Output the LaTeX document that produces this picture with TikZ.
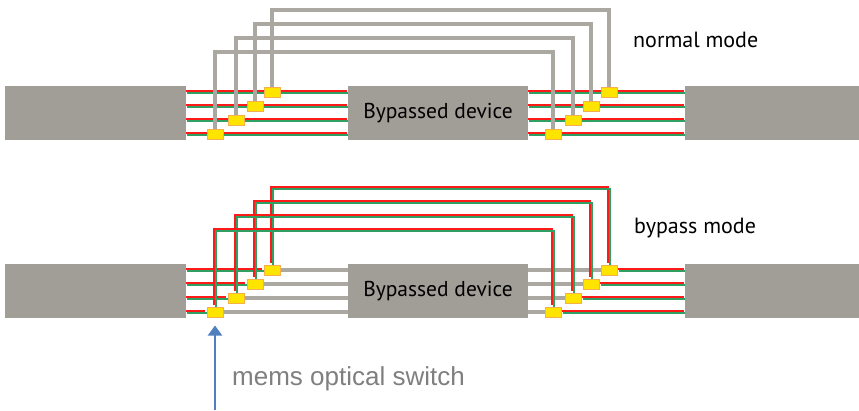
\documentclass[tikz,border=0pt]{standalone}
\usepackage{fontspec}
\setmainfont{PT Sans}
\newfontfamily\captionfont{Liberation Sans}
\usetikzlibrary{positioning, arrows.meta, calc, backgrounds}

\definecolor{devgray}{HTML}{A19D97}
\definecolor{lanegray}{HTML}{ABA7A1}
\definecolor{fibred}{HTML}{FF1A1A}
\definecolor{fibgreen}{HTML}{2FA062}
\definecolor{switchfill}{HTML}{FFE400}
\definecolor{switchedge}{HTML}{F5B04A}
\definecolor{pointblue}{HTML}{4F7FBF}
\definecolor{notegray}{HTML}{7F7F7F}

% two coloured strands of one fibre pair
\newcommand{\fibrepair}[1]{%
  \draw[redstrand] #1;
  \draw[greenstrand] #1;}

\begin{document}
\begin{tikzpicture}[
    x=1pt, y=-1pt,
    device/.style={rectangle, fill=devgray, minimum height=54pt, inner sep=0pt, font=\fontsize{21.5}{24}\selectfont},
    switch/.style={rectangle, draw=switchedge, fill=switchfill, line width=1pt, minimum width=16pt, minimum height=10pt, inner sep=0pt},
    redstrand/.style={draw=fibred, line width=1.7pt, transform canvas={xshift=-1.2pt, yshift=1.2pt}},
    greenstrand/.style={draw=fibgreen, line width=1.7pt, transform canvas={xshift=1.2pt, yshift=-1.2pt}},
    bypass/.style={draw=lanegray, line width=3.3pt},
    modelabel/.style={anchor=base west, inner sep=0pt, font=\fontsize{22}{25}\selectfont},
    pointer/.style={-{Triangle[width=14pt, length=10pt]}, line width=2pt, draw=pointblue}
]
\useasboundingbox (0,0) rectangle (859,410);

% Devices, normal mode
\node[device, minimum width=181pt] (leftA) at (95.5,113) {};
\node[device, minimum width=180pt] (dutA) at (438,113) {Bypassed device};
\node[device, minimum width=174pt] (rightA) at (772,113) {};

% Devices, bypass mode
\node[device, minimum width=181pt] (leftB) at (95.5,291) {};
\node[device, minimum width=180pt] (dutB) at (438,291) {Bypassed device};
\node[device, minimum width=174pt] (rightB) at (772,291) {};

% Switches and fibres, one row at a time
\foreach \i/\y/\xl/\xr/\h in {1/92/272/609/10, 2/106/255/591/24, 3/120/236/573/38, 4/134/215/553/52} {
  \node[switch] (inA\i) at (\xl,\y) {};
  \node[switch] (outA\i) at (\xr,\y) {};
  \coordinate (loopA\i) at (0,\h);
  \node[switch] (inB\i) at (\xl,\y+178) {};
  \node[switch] (outB\i) at (\xr,\y+178) {};
  \coordinate (loopB\i) at (0,\h+178);
  \begin{scope}[on background layer]
    % normal mode: light goes through the device
    \fibrepair{(leftA.east |- inA\i) -- (dutA.west |- inA\i)}
    \fibrepair{(dutA.east |- outA\i) -- (rightA.west |- outA\i)}
    \draw[bypass] (inA\i) -- (inA\i |- loopA\i) -- (outA\i |- loopA\i) -- (outA\i);
    % bypass mode: light goes round it
    \draw[bypass] (inB\i) -- (dutB.west |- inB\i);
    \draw[bypass] (dutB.east |- outB\i) -- (outB\i);
    \fibrepair{(leftB.east |- inB\i) -- (inB\i)}
    \fibrepair{(outB\i) -- (rightB.west |- outB\i)}
    \fibrepair{(inB\i) -- (inB\i |- loopB\i) -- (outB\i |- loopB\i) -- (outB\i)}
  \end{scope}
}

% Labels
\node[modelabel] (normalLabel) at (633,47) {normal mode};
\node[modelabel] (bypassLabel) at (634,233) {bypass mode};
\node[anchor=base west, inner sep=0pt, text=notegray, font=\captionfont\fontsize{26}{29}\selectfont] (switchNote) at (232,385) {mems optical switch};

% Arrow
\coordinate (arrowFoot) at (215,410);
\draw[pointer, shorten >=8pt] (arrowFoot) -- (inB4.south);

\end{tikzpicture}
\end{document}
